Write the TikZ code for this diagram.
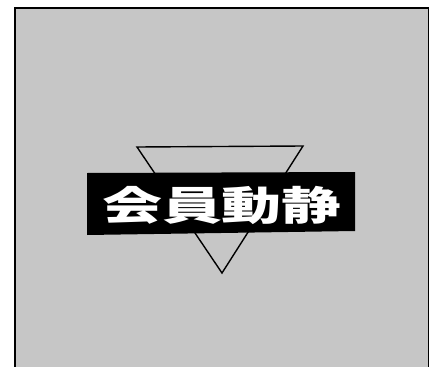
\documentclass[tikz,border=0pt]{standalone}
\usepackage{fontspec}
\newfontfamily\cjk{Noto Sans CJK JP}
\definecolor{bggray}{RGB}{198,198,198}
\begin{document}
\begin{tikzpicture}[x=1pt,y=-1pt,
  frame/.style={draw=black,line width=1.3pt,fill=bggray},
  tri/.style={draw=black,line width=1.4pt,fill=bggray,line join=miter},
  title/.style={text=white,font=\cjk\bfseries\fontsize{40}{40}\selectfont,inner sep=0pt}]
\useasboundingbox (0,0) rectangle (429,367);
\fill[white] (0,0) rectangle (429,367);
\draw[frame] (15,8) rectangle (428.5,370);
\coordinate (tl) at (137,147);
\coordinate (tr) at (303,146);
\coordinate (ap) at (222,273);
\draw[tri] (tl) -- (tr) -- (ap) -- cycle;
\fill[black] (87,173) -- (355,172) -- (355,231) -- (87,235) -- cycle;
\node[title] (t) at (222,205) {\scalebox{1.5}[1]{会員動静}};
\end{tikzpicture}
\end{document}
